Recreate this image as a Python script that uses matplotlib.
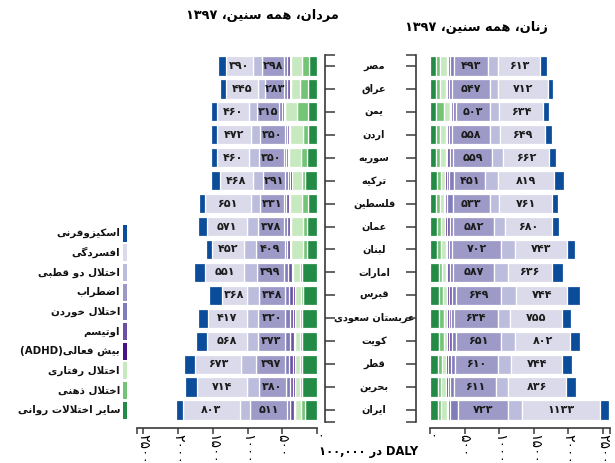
import matplotlib
matplotlib.use('Agg')
import matplotlib.pyplot as plt
from matplotlib.patches import Rectangle
from matplotlib.transforms import blended_transform_factory

plt.rcParams['font.family'] = ['DejaVu Sans']

# ---------------- data ----------------
countries = ['مصر', 'عراق', 'یمن', 'اردن', 'سوریه', 'ترکیه', 'فلسطین', 'عمان', 'لبنان',
             'امارات', 'قبرس', 'عربستان سعودی', 'کویت', 'قطر', 'بحرین', 'ایران']

categories = ['سایر اختلالات روانی', 'اختلال ذهنی', 'اختلال رفتاری', 'بیش فعالی(ADHD)', 'اوتیسم',
              'اختلال خوردن', 'اضطراب', 'اختلال دو قطبی', 'افسردگی', 'اسکیزوفرنی']
colors = ['#238b45', '#74c476', '#c7e9c0', '#4a1486', '#6a51a3',
          '#807dba', '#9e9ac8', '#bcbddc', '#dadaeb', '#0b4d9a']

# men (DALY per 100,000)
men_other   = [120, 134, 134, 134, 140, 178, 134, 144, 144, 210, 200, 211, 211, 211, 211, 178]
men_intel   = [100, 106, 149, 67, 86, 40, 77, 60, 60, 40, 30, 30, 30, 40, 40, 50]
men_conduct = [160, 134, 173, 192, 180, 144, 180, 165, 175, 90, 90, 76, 70, 70, 66, 84]
men_adhd    = [15, 15, 15, 15, 15, 20, 15, 20, 15, 25, 25, 25, 25, 25, 25, 25]
men_autism  = [40, 40, 35, 30, 30, 40, 40, 40, 35, 55, 60, 50, 55, 50, 50, 45]
men_eating  = [45, 40, 36, 27, 30, 40, 35, 40, 35, 50, 50, 69, 74, 69, 59, 50]
men_anx     = [310, 283, 315, 350, 350, 315, 335, 380, 415, 400, 380, 385, 384, 408, 384, 525]
men_bipolar = [134, 90, 125, 140, 145, 150, 140, 160, 175, 180, 168, 163, 163, 216, 178, 158]
men_dep     = [390, 470, 460, 480, 470, 470, 660, 575, 455, 555, 370, 560, 571, 660, 714, 811]
men_schizo  = [106, 77, 86, 90, 86, 125, 75, 134, 90, 168, 185, 144, 154, 163, 168, 110]
men_anx_label = [298, 283, 315, 350, 350, 291, 331, 378, 409, 399, 348, 320, 373, 397, 380, 511]
men_dep_label = [390, 445, 460, 472, 460, 468, 651, 571, 452, 551, 368, 417, 568, 673, 714, 803]

# women (DALY per 100,000)
women_other   = [90, 87, 87, 88, 88, 106, 92, 106, 106, 130, 130, 135, 135, 120, 120, 120]
women_intel   = [55, 55, 110, 55, 55, 53, 53, 48, 48, 48, 63, 67, 67, 58, 38, 38]
women_conduct = [100, 85, 90, 85, 85, 63, 58, 63, 77, 48, 48, 43, 40, 53, 72, 82]
women_adhd    = [20, 20, 20, 15, 20, 20, 20, 25, 20, 25, 30, 25, 30, 30, 25, 20]
women_autism  = [30, 30, 30, 25, 35, 33, 25, 45, 25, 40, 45, 30, 45, 45, 40, 30]
women_eating  = [55, 45, 32, 45, 55, 72, 80, 50, 47, 45, 55, 45, 55, 60, 50, 120]
women_anx     = [493, 547, 503, 558, 559, 451, 533, 582, 702, 587, 649, 634, 651, 610, 611, 723]
women_bipolar = [140, 120, 125, 140, 160, 178, 140, 160, 207, 198, 222, 178, 202, 193, 170, 190]
women_dep     = [613, 712, 634, 649, 662, 819, 761, 680, 743, 636, 744, 755, 802, 744, 836, 1133]
women_schizo  = [95, 80, 85, 95, 95, 140, 92, 110, 115, 160, 174, 130, 145, 140, 145, 135]
women_anx_label = women_anx
women_dep_label = women_dep

x_ticks = [0, 500, 1000, 1500, 2000, 2500]

title_men = 'مردان، همه سنین، ۱۳۹۷'
title_women = 'زنان، همه سنین، ۱۳۹۷'
x_label = 'DALY در ۱۰۰,۰۰۰'

# ---------------- Persian text shaping (matplotlib has no bidi/shaping) ----------------
FORMS = {
    'ا': ('\uFE8D', '\uFE8E', None, None), 'آ': ('\uFE81', '\uFE82', None, None),
    'ب': ('\uFE8F', '\uFE90', '\uFE91', '\uFE92'), 'پ': ('\uFB56', '\uFB57', '\uFB58', '\uFB59'),
    'ت': ('\uFE95', '\uFE96', '\uFE97', '\uFE98'), 'ث': ('\uFE99', '\uFE9A', '\uFE9B', '\uFE9C'),
    'ج': ('\uFE9D', '\uFE9E', '\uFE9F', '\uFEA0'), 'چ': ('\uFB7A', '\uFB7B', '\uFB7C', '\uFB7D'),
    'ح': ('\uFEA1', '\uFEA2', '\uFEA3', '\uFEA4'), 'خ': ('\uFEA5', '\uFEA6', '\uFEA7', '\uFEA8'),
    'د': ('\uFEA9', '\uFEAA', None, None), 'ذ': ('\uFEAB', '\uFEAC', None, None),
    'ر': ('\uFEAD', '\uFEAE', None, None), 'ز': ('\uFEAF', '\uFEB0', None, None),
    'ژ': ('\uFB8A', '\uFB8B', None, None),
    'س': ('\uFEB1', '\uFEB2', '\uFEB3', '\uFEB4'), 'ش': ('\uFEB5', '\uFEB6', '\uFEB7', '\uFEB8'),
    'ص': ('\uFEB9', '\uFEBA', '\uFEBB', '\uFEBC'), 'ض': ('\uFEBD', '\uFEBE', '\uFEBF', '\uFEC0'),
    'ط': ('\uFEC1', '\uFEC2', '\uFEC3', '\uFEC4'), 'ظ': ('\uFEC5', '\uFEC6', '\uFEC7', '\uFEC8'),
    'ع': ('\uFEC9', '\uFECA', '\uFECB', '\uFECC'), 'غ': ('\uFECD', '\uFECE', '\uFECF', '\uFED0'),
    'ف': ('\uFED1', '\uFED2', '\uFED3', '\uFED4'), 'ق': ('\uFED5', '\uFED6', '\uFED7', '\uFED8'),
    'ک': ('\uFB8E', '\uFB8F', '\uFB90', '\uFB91'), 'گ': ('\uFB92', '\uFB93', '\uFB94', '\uFB95'),
    'ل': ('\uFEDD', '\uFEDE', '\uFEDF', '\uFEE0'), 'م': ('\uFEE1', '\uFEE2', '\uFEE3', '\uFEE4'),
    'ن': ('\uFEE5', '\uFEE6', '\uFEE7', '\uFEE8'), 'ه': ('\uFEE9', '\uFEEA', '\uFEEB', '\uFEEC'),
    'و': ('\uFEED', '\uFEEE', None, None),
    'ی': ('\uFBFC', '\uFBFD', '\uFBFE', '\uFBFF'),
}
LAM_ALEF = {'ا': ('\uFEFB', '\uFEFC'), 'آ': ('\uFEF5', '\uFEF6')}


def _dual(c):
    return c in FORMS and FORMS[c][2] is not None


def reshape(s):
    out = []
    i, n = 0, len(s)
    while i < n:
        c = s[i]
        if c not in FORMS:
            out.append(c)
            i += 1
            continue
        prev = s[i - 1] if i > 0 else ''
        con_prev = _dual(prev)
        if c == 'ل' and i + 1 < n and s[i + 1] in LAM_ALEF:
            iso, fin = LAM_ALEF[s[i + 1]]
            out.append(fin if con_prev else iso)
            i += 2
            continue
        nxt = s[i + 1] if i + 1 < n else ''
        con_next = _dual(c) and nxt in FORMS
        iso, fin, ini, med = FORMS[c]
        if con_prev and con_next:
            g = med
        elif con_prev:
            g = fin
        elif con_next:
            g = ini
        else:
            g = iso
        out.append(g)
        i += 1
    return ''.join(out)


def _is_ltr(ch):
    return (ch.isascii() and ch.isalnum()) or ('\u06F0' <= ch <= '\u06F9')


def visual(s):
    sh = reshape(s)
    runs = []
    for ch in sh:
        t = _is_ltr(ch) or (ch in ',.' and runs and runs[-1][0])
        if runs and runs[-1][0] == t:
            runs[-1][1].append(ch)
        else:
            runs.append([t, [ch]])
    mirror = {'(': ')', ')': '('}
    parts = []
    for t, chars in reversed(runs):
        if t:
            parts.append(''.join(chars))
        else:
            parts.append(''.join(mirror.get(c, c) for c in reversed(chars)))
    return ''.join(parts)


def fa(n):
    return str(n).translate(str.maketrans('0123456789', '۰۱۲۳۴۵۶۷۸۹'))


# ---------------- figure ----------------
W, H = 615, 463
fig = plt.figure(figsize=(W / 100, H / 100), dpi=100)


def fx(px):
    return px / W


def fy(py):
    return 1 - py / H


top_px, bot_px = 54.5, 421.5
ax_m = fig.add_axes([fx(137), fy(bot_px), (317 - 137) / W, (bot_px - top_px) / H])
ax_w = fig.add_axes([fx(430), fy(bot_px), (610 - 430) / W, (bot_px - top_px) / H])

men_series = [men_other, men_intel, men_conduct, men_adhd, men_autism, men_eating,
              men_anx, men_bipolar, men_dep, men_schizo]
women_series = [women_other, women_intel, women_conduct, women_adhd, women_autism, women_eating,
                women_anx, women_bipolar, women_dep, women_schizo]

ypos = list(range(len(countries)))
spine_col = '#3a3a3a'


def draw(ax, series, anx_lab, dep_lab, xmax):
    left = [0] * len(countries)
    for k, (vals, col) in enumerate(zip(series, colors)):
        ax.barh(ypos, vals, left=left, height=0.84, color=col, edgecolor='white', linewidth=0.9)
        if k in (6, 8):
            labs = anx_lab if k == 6 else dep_lab
            for i in ypos:
                ax.text(left[i] + vals[i] / 2, i, fa(labs[i]), ha='center', va='center',
                        fontsize=8, fontweight='bold', color='#1c1c1c')
        left = [a + b for a, b in zip(left, vals)]
    ax.set_ylim(len(countries) - 0.5, -0.5)
    ax.set_yticks(ypos)
    ax.set_yticklabels([])
    ax.set_yticks([-0.5, len(countries) - 0.5], minor=True)
    ax.set_xlim(0, xmax)
    ax.set_xticks(x_ticks)
    ax.set_xticklabels([fa(t) for t in x_ticks], fontsize=4.8, fontweight='normal')
    ax.set_xticks([xmax], minor=True)
    ax.tick_params(axis='both', which='both', direction='out', color=spine_col, width=1.1)
    ax.tick_params(axis='y', which='both', length=7)
    ax.tick_params(axis='x', which='both', length=4, pad=0.3, labelrotation=-90)
    ax.spines['top'].set_visible(False)
    ax.spines['bottom'].set_position(('outward', 5))
    for sp in ax.spines.values():
        sp.set_color(spine_col)
        sp.set_linewidth(1.2)


draw(ax_m, men_series, men_anx_label, men_dep_label, 2590)
ax_m.invert_xaxis()
ax_m.spines['left'].set_visible(False)
ax_m.spines['right'].set_position(('outward', 6))
ax_m.yaxis.tick_right()

draw(ax_w, women_series, women_anx_label, women_dep_label, 2600)
ax_w.spines['right'].set_visible(False)
ax_w.spines['left'].set_position(('outward', 10))
ax_w.yaxis.tick_left()

# country names in the middle
trans = blended_transform_factory(fig.transFigure, ax_m.transData)
for i, name in enumerate(countries):
    fig.text(fx(374), i, visual(name), transform=trans, ha='center', va='center',
             fontsize=7.0, fontweight='bold', color='#111111')

# titles
fig.text(fx(262), fy(16), visual(title_men), ha='center', va='center', fontsize=9.3, fontweight='bold')
fig.text(fx(476), fy(27), visual(title_women), ha='center', va='center', fontsize=9.3, fontweight='bold')

# x label
fig.text(fx(369), fy(451), visual(x_label), ha='center', va='center', fontsize=8.3, fontweight='bold')

# legend (top to bottom: schizophrenia ... other)
leg_y0, leg_dy = 233, 19.7
for j, k in enumerate(range(len(categories) - 1, -1, -1)):
    yc = leg_y0 + j * leg_dy
    fig.patches.append(Rectangle((fx(123), fy(yc + 8.5)), 4 / W, 17 / H, transform=fig.transFigure,
                                 facecolor=colors[k], edgecolor='none'))
    fig.text(fx(120), fy(yc), visual(categories[k]), ha='right', va='center', fontsize=7.4,
             fontweight='bold', color='#111111')

fig.savefig('out.png', dpi=100)
